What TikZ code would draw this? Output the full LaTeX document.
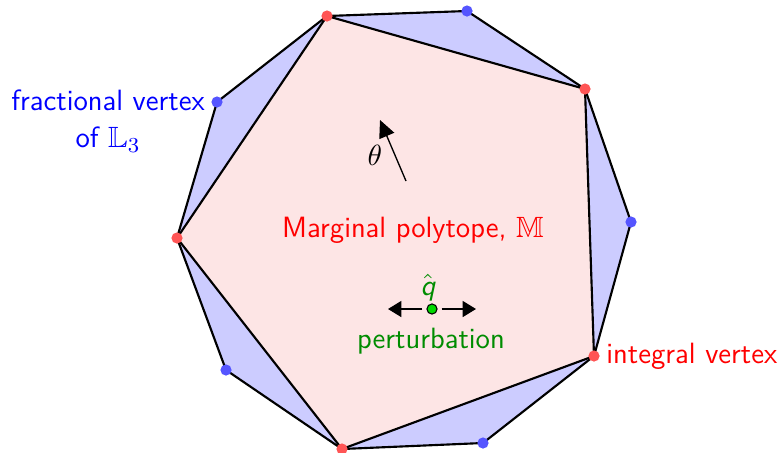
\documentclass[tikz,border=0pt]{standalone}
\usepackage{amssymb}
\usetikzlibrary{arrows.meta}
\definecolor{Lavender}{HTML}{CCCCFF}
\definecolor{Blush}{HTML}{FDE5E5}
\definecolor{IntRed}{HTML}{FF5555}
\definecolor{FracBlue}{HTML}{5555FF}
\definecolor{PertGreen}{HTML}{008C00}

\begin{document}
\begin{tikzpicture}[x=0.375pt,y=-0.375pt,every node/.style={font=\fontsize{11}{14}\selectfont\sffamily},edge/.style={draw=black,line width=0.8pt,line join=round},intdot/.style={circle,fill=IntRed,inner sep=0pt,minimum size=4.2pt},fracdot/.style={circle,fill=FracBlue,inner sep=0pt,minimum size=4.2pt},qdot/.style={circle,draw=black,fill=green!85!black,line width=0.4pt,inner sep=0pt,minimum size=3.8pt},param/.style={-{Triangle[length=6.5pt,width=6pt]},line width=0.5pt},pert/.style={-{Triangle[length=5pt,width=6pt]},line width=0.5pt,shorten <=1.5pt}]
\useasboundingbox (0,0) rectangle (781,452);
% vertices of the local polytope
\coordinate (i1) at (327,16);
\coordinate (f1) at (467,11);
\coordinate (i2) at (585,89);
\coordinate (f2) at (631,222);
\coordinate (i3) at (594,356);
\coordinate (f3) at (483,443);
\coordinate (i4) at (342,449);
\coordinate (f4) at (226,370);
\coordinate (i5) at (177,238);
\coordinate (f5) at (217,102);
\filldraw[edge,fill=Lavender] (i1)--(f1)--(i2)--(f2)--(i3)--(f3)--(i4)--(f4)--(i5)--(f5)--cycle;
\filldraw[edge,fill=Blush] (i1)--(i2)--(i3)--(i4)--(i5)--cycle;
\foreach \v in {i1,i2,i3,i4,i5}{\node[intdot] (d\v) at (\v) {};}
\foreach \v in {f1,f2,f3,f4,f5}{\node[fracdot] (d\v) at (\v) {};}
% labels
\node[text=blue,align=center] (fraclbl) at (108,121) {fractional vertex\\of $\mathbb{L}_3$};
\node[text=red,anchor=west] (intlbl) at (597,356) {integral vertex};
\node[text=red] (mlbl) at (413,230) {Marginal polytope, $\mathbb{M}$};
% parameter direction
\coordinate (tailT) at (406,181);
\coordinate (headT) at (380,120);
\draw[param] (tailT)--(headT);
\node (theta) at (375,155) {$\theta$};
% perturbation of q
\node[qdot] (q) at (432,309) {};
\coordinate (qL) at (388,309);
\coordinate (qR) at (476,309);
\draw[pert] (q)--(qL);
\draw[pert] (q)--(qR);
\node[text=PertGreen] (qlbl) at (428,288) {$\hat{\textsl{q}}$};
\node[text=PertGreen] (pertlbl) at (431,341) {perturbation};
\end{tikzpicture}
\end{document}
